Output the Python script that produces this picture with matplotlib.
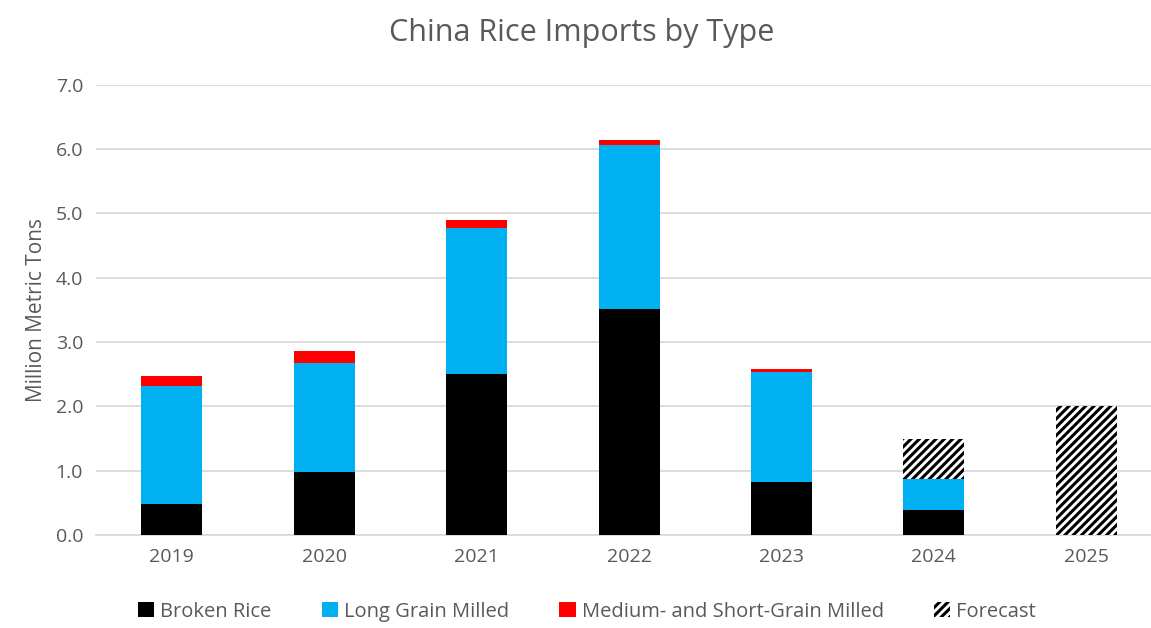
import numpy as np
import matplotlib
matplotlib.use("Agg")
import matplotlib.pyplot as plt
from matplotlib.patches import Patch

# data
years = ["2019", "2020", "2021", "2022", "2023", "2024", "2025"]
broken = [0.49, 0.98, 2.50, 3.51, 0.83, 0.39, 0.0]
long_grain = [1.82, 1.69, 2.27, 2.56, 1.71, 0.48, 0.0]
med_short = [0.16, 0.19, 0.13, 0.07, 0.04, 0.0, 0.0]
forecast_total = [0.0, 0.0, 0.0, 0.0, 0.0, 1.50, 2.00]

plt.rcParams['font.family'] = ['Open Sans', 'DejaVu Sans']
plt.rcParams['hatch.linewidth'] = 2.2
grey = '#595959'

fig = plt.figure(figsize=(11.51, 6.28), dpi=100)
ax = fig.add_axes([0.083, 0.148, 0.927, 0.717])

x = np.arange(len(years))
w = 0.4
broken = np.array(broken)
long_grain = np.array(long_grain)
med_short = np.array(med_short)
actual = broken + long_grain + med_short
fc = np.clip(np.array(forecast_total) - actual, 0, None)

ax.bar(x, broken, w, color='black', label='Broken Rice', zorder=3)
ax.bar(x, long_grain, w, bottom=broken, color='#00b0f0', label='Long Grain Milled', zorder=3)
ax.bar(x, med_short, w, bottom=broken + long_grain, color='#ff0000',
       label='Medium- and Short-Grain Milled', zorder=3)
ax.bar(x, fc, w, bottom=actual, color='white', edgecolor='black', hatch='////',
       linewidth=0, label='Forecast', zorder=3)

ax.set_xlim(-0.5, len(years) - 0.5)
ax.set_ylim(0, 7)
ax.set_yticks(np.arange(0, 7.5, 1.0))
ax.set_yticklabels([f"{v:.1f}" for v in np.arange(0, 7.5, 1.0)])
ax.set_xticks(x)
ax.set_xticklabels(years)
ax.yaxis.grid(True, color='#d9d9d9', linewidth=1.3, zorder=0)
ax.set_axisbelow(True)
for s in ['top', 'right', 'left']:
    ax.spines[s].set_visible(False)
ax.spines['bottom'].set_color('#d9d9d9')
ax.spines['bottom'].set_linewidth(1.3)
ax.tick_params(axis='both', length=0, labelsize=14, labelcolor=grey, pad=9)

ax.set_ylabel("Million Metric Tons", fontsize=15, color=grey, labelpad=6)
fig.text(0.505, 0.948, "China Rice Imports by Type", ha='center', va='center',
         fontsize=22, color=grey)

handles = [Patch(facecolor='black'), Patch(facecolor='#00b0f0'), Patch(facecolor='#ff0000'),
           Patch(facecolor='white', edgecolor='black', hatch='////', linewidth=0)]
labels = ['Broken Rice', 'Long Grain Milled', 'Medium- and Short-Grain Milled', 'Forecast']
fig.legend(handles, labels, loc='center', bbox_to_anchor=(0.51, 0.026), ncol=4,
           frameon=False, fontsize=14.5, labelcolor=grey, handlelength=0.8,
           handleheight=0.8, handletextpad=0.3, columnspacing=2.5,
           borderpad=0, borderaxespad=0)

fig.savefig("out.png", dpi=100)
